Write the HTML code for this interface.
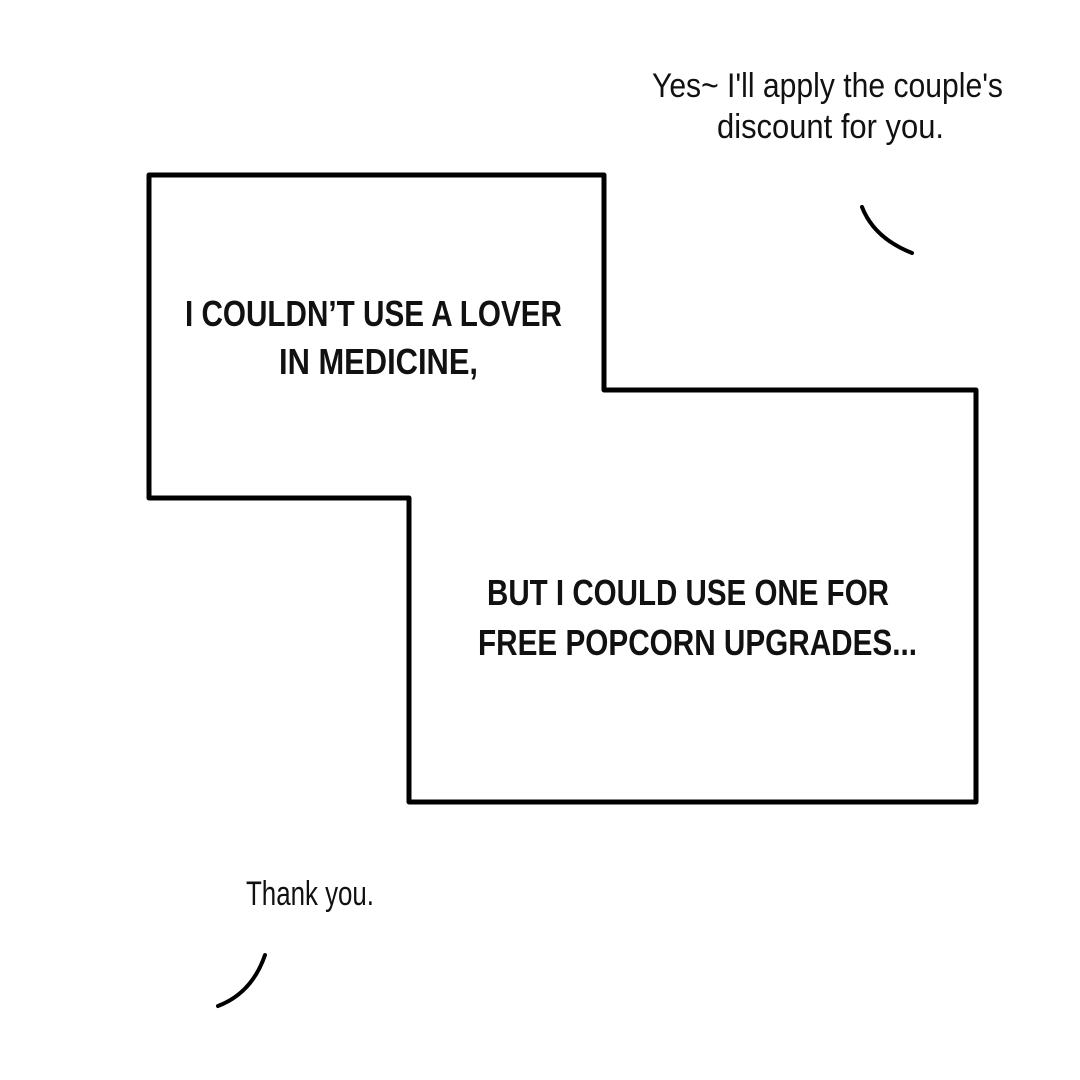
<!DOCTYPE html>
<html><head><meta charset="utf-8"><style>
html,body{margin:0;padding:0;background:#fff;width:1080px;height:1080px;overflow:hidden}
</style></head><body>
<svg width="1080" height="1080" viewBox="0 0 1080 1080" xmlns="http://www.w3.org/2000/svg">
<rect width="1080" height="1080" fill="#fff"/>
<path d="M149,175 L604,175 L604,390 L976,390 L976,802 L409,802 L409,498 L149,498 Z" fill="#fff" stroke="#000" stroke-width="5" stroke-linejoin="round"/>
<g font-family="'Liberation Sans Narrow','Liberation Sans',sans-serif" font-weight="bold" font-size="36" fill="#111">
<text x="185" y="326" textLength="377" lengthAdjust="spacingAndGlyphs">I COULDN’T USE A LOVER</text>
<text x="279" y="374" textLength="199" lengthAdjust="spacingAndGlyphs">IN MEDICINE,</text>
<text x="487" y="605" textLength="402" lengthAdjust="spacingAndGlyphs">BUT I COULD USE ONE FOR</text>
<text x="478" y="655" textLength="439" lengthAdjust="spacingAndGlyphs">FREE POPCORN UPGRADES...</text>
</g>
<g font-family="'Liberation Sans Narrow','Liberation Sans',sans-serif" font-size="34" fill="#111">
<text x="652" y="97" textLength="351" lengthAdjust="spacingAndGlyphs">Yes~ I'll apply the couple's</text>
<text x="717" y="138" textLength="227" lengthAdjust="spacingAndGlyphs">discount for you.</text>
<text x="246" y="905" textLength="128" lengthAdjust="spacingAndGlyphs">Thank you.</text>
</g>
<path d="M862,207 Q874,238 912,253" fill="none" stroke="#000" stroke-width="4" stroke-linecap="round"/>
<path d="M265,955 Q252,993 218,1006" fill="none" stroke="#000" stroke-width="4" stroke-linecap="round"/>
</svg>
</body></html>
